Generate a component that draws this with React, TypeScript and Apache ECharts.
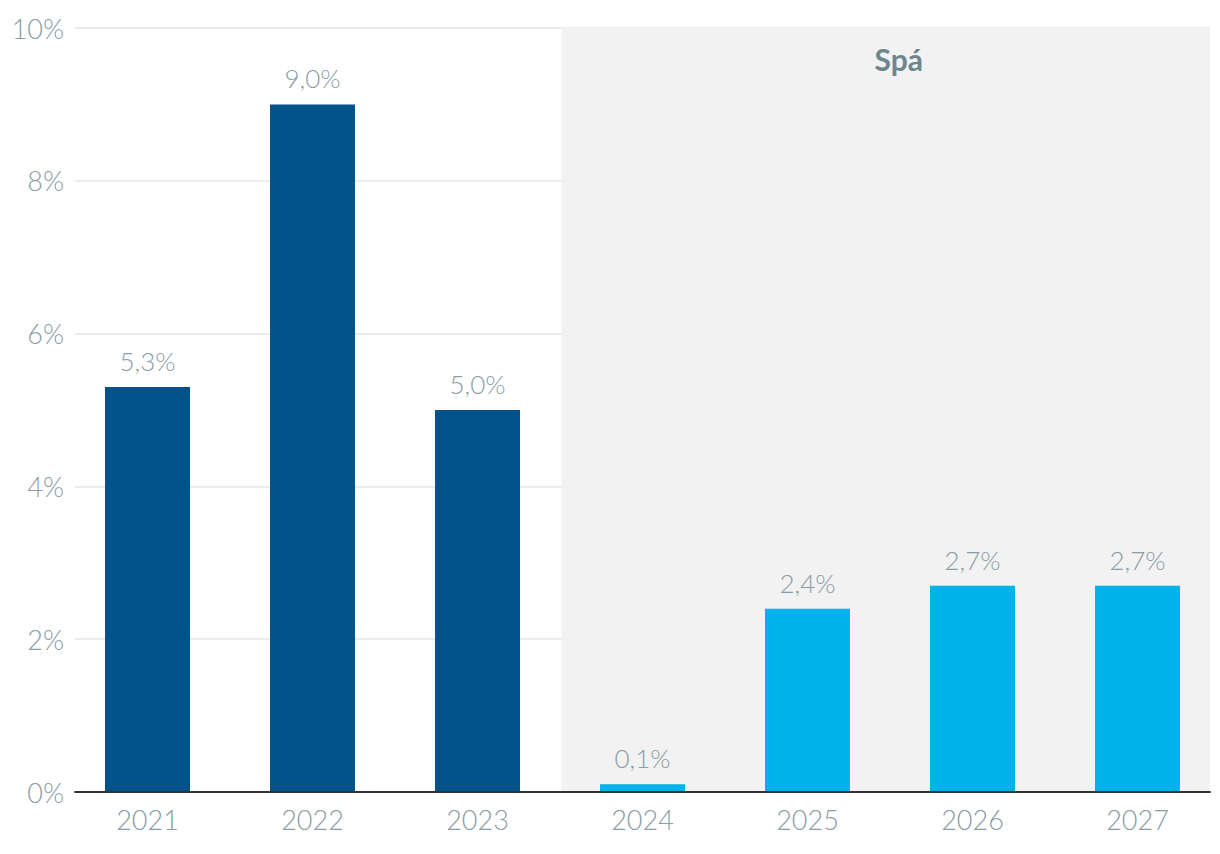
import React, { useEffect, useRef } from "react";
import * as echarts from "echarts";

const categories = ["2021", "2022", "2023", "2024", "2025", "2026", "2027"];
const values = [5.3, 9.0, 5.0, 0.1, 2.4, 2.7, 2.7];
const forecastFlags = [false, false, false, true, true, true, true];
const yTicks = [0, 2, 4, 6, 8, 10];
const forecastLabel = "Spá";

const DARK = "#00538a";
const LIGHT = "#00b4eb";
const TEXT = "#8b9ca5";
const FONT = "Lato, 'Open Sans', sans-serif";

export default function App() {
  const ref = useRef<HTMLDivElement>(null);
  useEffect(() => {
    if (!ref.current) return;
    const chart = echarts.init(ref.current, null, { renderer: "svg" });
    const firstForecast = forecastFlags.indexOf(true);
    chart.setOption({
      animation: false,
      grid: [
        { left: 75, right: 10, top: 28, bottom: 62 },
        { left: 65, width: 1157.3, top: 28, bottom: 62 },
      ],
      xAxis: [
        {
          type: "value",
          gridIndex: 0,
          min: 0,
          max: categories.length,
          axisLine: { show: true, onZero: true, lineStyle: { color: "#333333", width: 2 } },
          axisTick: { show: false },
          axisLabel: { show: false },
          splitLine: { show: false },
          z: 10,
        },
        {
          type: "category",
          gridIndex: 1,
          data: categories,
          axisLine: { show: false },
          axisTick: { show: false },
          axisLabel: {
            color: TEXT,
            fontFamily: FONT,
            fontWeight: 300,
            fontSize: 27,
            margin: 14,
          },
        },
      ],
      yAxis: [
        {
          type: "value",
          gridIndex: 0,
          min: yTicks[0],
          max: yTicks[yTicks.length - 1],
          interval: 2,
          axisLine: { show: false },
          axisTick: { show: false },
          axisLabel: {
            color: TEXT,
            fontFamily: FONT,
            fontWeight: 300,
            fontSize: 27,
            margin: 11,
            formatter: (v: number) => `${v}%`,
          },
          splitLine: { show: true, lineStyle: { color: "#e6e6e6", width: 1.5 } },
        },
        {
          type: "value",
          gridIndex: 1,
          min: yTicks[0],
          max: yTicks[yTicks.length - 1],
          interval: 2,
          show: false,
          splitLine: { show: false },
        },
      ],
      series: [
        {
          type: "line",
          xAxisIndex: 0,
          yAxisIndex: 0,
          data: [],
          silent: true,
          markArea: {
            silent: true,
            itemStyle: { color: "#f2f2f2" },
            label: {
              show: true,
              position: "insideTop",
              offset: [13, 11],
              formatter: forecastLabel,
              color: "#6f868f",
              fontFamily: FONT,
              fontWeight: "bold",
              fontSize: 30,
            },
            data: [[{ xAxis: firstForecast }, { xAxis: categories.length }]],
          },
        },
        {
          type: "bar",
          xAxisIndex: 1,
          yAxisIndex: 1,
          barWidth: 85,
          data: values.map((v, i) => ({
            value: v,
            itemStyle: { color: forecastFlags[i] ? LIGHT : DARK },
          })),
          label: {
            show: true,
            position: "top",
            distance: 13,
            color: TEXT,
            fontFamily: FONT,
            fontWeight: 300,
            fontSize: 26,
            formatter: (p: any) => `${p.value.toFixed(1).replace(".", ",")}%`,
          },
        },
      ],
    });
    return () => chart.dispose();
  }, []);
  return (
    <div
      ref={ref}
      style={{ position: "fixed", left: 0, top: 0, width: 1220, height: 854, background: "#fff" }}
    />
  );
}
